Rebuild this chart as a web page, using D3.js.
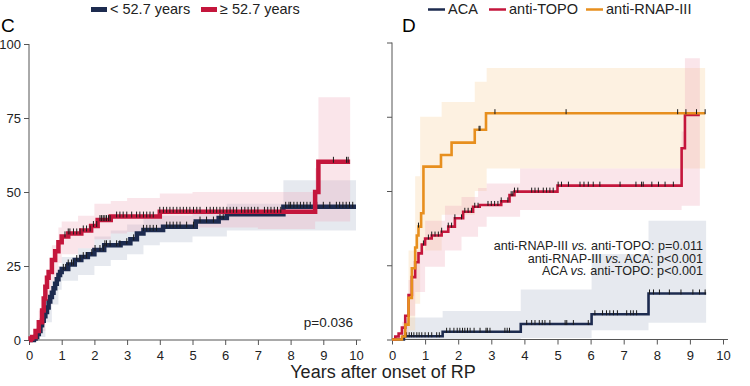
<!DOCTYPE html>
<html>
<head>
<meta charset="utf-8">
<script src="https://cdn.jsdelivr.net/npm/d3@7"></script>
<style>
body{margin:0;background:#fff;}
svg{display:block;font-family:"Liberation Sans",Arial,sans-serif;}
.axis text{font-size:13px;fill:#222;}
.axis path,.axis line{stroke:#555;}
</style>
</head>
<body>
<div id="chart"></div>
<script>
// ---- data (years after onset, cumulative %)
var yTicks = [0,25,50,75,100]
var xTicks = [0,1,2,3,4,5,6,7,8,9,10]

// panel C : age groups
var youngT = [0,0.15,0.2,0.25,0.3,0.35,0.4,0.45,0.5,0.55,0.6,0.65,0.7,0.75,0.8,0.85,0.9,0.95,1.0,1.2,1.4,1.6,1.8,2.0,2.3,2.8,3.1,3.3,3.5,4.1,5.1,5.8,6.05,7.78]
var youngV = [0,0.5,1,2,3,5,6.5,8,9.5,11,13,14.5,16,17.5,19,20.5,22,23,24,25.5,27,28,29,30.4,32,32.7,34,36,37.2,38.3,40,41.2,42.5,45]
var youngEnd = 10.0
var youngCensor = [1.05,1.12,1.2,1.3,1.36,1.46,1.56,1.66,1.76,1.92,2.02,2.17,2.27,2.32,2.37,2.48,2.68,2.78,2.99,3.2,3.5,3.6,3.7,3.8,3.9,4.21,4.31,4.41,4.52,4.62,4.82,5.03,5.23,5.43,5.64,5.84,5.94,7.85,7.95,8.0,8.1,8.2,8.3,8.4,8.5,8.6,8.7,8.8,9.0,9.2,9.4,9.5,9.6,9.7,9.8,9.9]
var youngBandT = [0,0.3,0.5,0.7,0.9,1.0,1.5,2.0,2.5,3.0,3.5,4,5,6.05,7.78]
var youngUp = [0,4,13,20,25,28,31,35,37,39,41,42,44,46,54]
var youngLo = [0,1,6,12,17,20,22,25,27,29,32,33,35,37,37]

var oldT = [0,0.05,0.1,0.2,0.3,0.4,0.45,0.5,0.55,0.6,0.7,0.8,0.9,1.0,1.2,1.6,1.9,2.1,2.5,4.0,8.75,8.85]
var oldV = [0,0.5,1,3,6,10,14,18,21,23,27,30,33,35,36,37,38.5,40.5,41.7,43.3,50,60.2]
var oldEnd = 9.82
var oldCensor = [1.1,1.2,1.25,1.36,1.46,1.56,1.66,1.76,1.87,1.97,2.07,2.17,2.22,2.27,2.32,2.37,2.43,2.48,2.68,2.78,2.88,2.99,3.14,3.29,3.39,3.5,3.6,3.7,3.8,4.0,4.11,4.21,4.31,4.41,4.52,4.62,4.72,4.82,4.92,5.03,5.13,5.23,5.43,5.54,5.64,5.74,5.84,5.94,6.05,6.15,6.25,6.35,6.5,6.6,6.7,6.8,6.9,7.0,7.2,7.3,7.4,7.5,7.6,7.7,9.31,9.71,9.76]
var oldBandT = [0,0.3,0.5,0.7,0.9,1.0,1.5,2.0,2.5,3,4,5,7,8.75,8.85]
var oldUp = [0,10,22,32,38,40,42,46,47,48,49.5,50,50,58,82]
var oldLo = [0,3,12,20,26,29,31,34,36,36.5,37.5,38,37.5,40,40]

// panel D : antibodies
var acaT = [0,0.36,1.53,3.89,6.03,7.75]
var acaV = [0,1.1,2.6,5.2,8.5,15.5]
var acaEnd = 9.49
var acaCensor = [0.44,0.52,0.59,0.66,0.75,0.82,0.9,1.0,1.1,1.2,1.35,1.43,1.65,1.75,1.87,1.97,2.05,2.13,2.2,2.28,2.36,2.48,2.66,2.84,2.88,2.96,3.41,3.48,3.55,4.07,4.22,4.32,4.45,4.54,4.62,4.77,5.23,5.28,5.48,5.93,6.13,6.36,6.48,6.58,6.69,6.81,7.09,7.21,7.29,7.39,7.78,7.9,8.08,8.38,8.73,9.09,9.29,9.46]
var acaBandT = [0.36,1.53,3.89,6.03,7.75]
var acaUp = [7.4,9.6,16.8,28.8,40]
var acaLo = [0,0,0.5,3.1,5.6]

var topoT = [0,0.1,0.2,0.3,0.4,0.5,0.6,0.7,0.8,0.9,1.0,1.2,1.5,1.7,1.9,2.15,2.45,2.65,3.3,3.55,3.7,5.0,8.75,8.85]
var topoV = [0,1,2,4,8,15,21,26,29,32,34,35,36.3,38,40.8,43,44.7,45.3,46.5,48.6,49.8,51.8,64.4,75.6]
var topoEnd = 9.3
var topoCensor = [0.95,1.1,1.2,1.3,1.4,1.5,1.7,1.8,1.9,2.1,2.2,2.3,2.4,2.5,2.6,2.9,3.0,3.1,3.2,3.3,3.5,3.6,3.65,3.7,3.8,4.22,4.32,4.42,4.57,4.67,4.77,4.87,5.02,5.12,5.33,5.68,5.8,5.93,6.08,6.28,6.89,7.37,7.54,7.59,7.85,8.05,8.25,8.5]
var topoBandT = [0,0.3,0.5,0.7,1.0,1.6,2.1,2.6,2.86,3.87,8.75,8.85]
var topoUp = [0,6,20,30,40,45,48,51,52.5,57.6,70,94.7]
var topoLo = [0,1,8,16,24.5,30,34.6,38,41.3,43.6,45,45]

var rnapT = [0,0.3,0.4,0.5,0.6,0.7,0.75,0.8,0.88,0.95,1.48,1.8,2.5,2.84]
var rnapV = [0,1,5,14,24,31,35,38,42.5,58.2,62.1,66.3,70.6,76.2]
var rnapEnd = 9.46
var rnapCensor = [0.8,2.63,2.66,3.11,5.26,8.63,8.88,9.2,9.46]
var rnapBandT = [0.3,0.5,0.7,0.85,1.5,2.5,2.86]
var rnapUp = [0,30,55,75,80,86.8,91.4]
var rnapLo = [0,3,12,30,42,50,57.6]

// ---- colours
var navy = "#1d2b4f", red = "#c4163c", orange = "#e78f1e"

var W = 750, H = 386
var svg = d3.select("#chart").append("svg").attr("width",W).attr("height",H)

var xC = d3.scaleLinear().domain([0,10]).range([29,356])
var yC = d3.scaleLinear().domain([0,100]).range([340,44])
var xD = d3.scaleLinear().domain([0,10]).range([392,723])
var yD = d3.scaleLinear().domain([0,100]).range([339.5,42.5])

function stepPoints(t,v,end){
    var pts = t.map(function(d,i){return [d,v[i]]})
    pts.push([end,v[v.length-1]])
    return pts
}
function valueAt(t,v,x){
    var val = v[0]
    for(var i in t){ if(t[i]<=x) val = v[i] }
    return val
}

function drawBand(x,y,t,up,lo,end,fill){
    var pts = t.map(function(d,i){return {t:d,u:up[i],l:lo[i]}})
    pts.push({t:end,u:up[up.length-1],l:lo[lo.length-1]})
    var area = d3.area().curve(d3.curveStepAfter)
        .x(function(d){return x(d.t)})
        .y0(function(d){return y(d.l)})
        .y1(function(d){return y(d.u)})
    svg.append("path").datum(pts).attr("d",area).attr("fill",fill)
}
function drawCurve(x,y,t,v,end,color,width,censor,tickUp){
    var line = d3.line().curve(d3.curveStepAfter)
        .x(function(d){return x(d[0])}).y(function(d){return y(d[1])})
    svg.append("path").datum(stepPoints(t,v,end)).attr("d",line)
        .attr("fill","none").attr("stroke",color).attr("stroke-width",width)
        .attr("stroke-linejoin","miter")
    svg.append("g").selectAll("line").data(censor).enter().append("line")
        .attr("x1",function(d){return x(d)}).attr("x2",function(d){return x(d)})
        .attr("y1",function(d){return y(valueAt(t,v,d))-tickUp})
        .attr("y2",function(d){return y(valueAt(t,v,d))+1})
        .attr("stroke","#1a1a1a").attr("stroke-width",1)
}

function drawAxes(x,y,labels){
    var ga = svg.append("g").attr("class","axis").attr("transform","translate("+x.range()[0]+",0)")
        .call(d3.axisLeft(y).tickValues(yTicks).tickSize(5).tickSizeOuter(0).tickFormat(labels?d3.format("d"):""))
    ga.select(".domain").remove()
    ga.append("line").attr("y1",y(0)).attr("y2",y(100)).attr("stroke","#555")
    var gx = svg.append("g").attr("class","axis").attr("transform","translate(0,"+y(0)+")")
        .call(d3.axisBottom(x).tickValues(xTicks).tickSize(5).tickSizeOuter(0))
    gx.select(".domain").remove()
    gx.append("line").attr("x1",x(0)).attr("x2",x(10.15)).attr("stroke","#555")
    gx.selectAll("text").attr("dy","0.95em")
}

// panel C
drawBand(xC,yC,youngBandT,youngUp,youngLo,youngEnd,"rgba(200,207,220,0.45)")
drawBand(xC,yC,oldBandT,oldUp,oldLo,oldEnd,"rgba(240,170,185,0.3)")
drawAxes(xC,yC,true)
drawCurve(xC,yC,youngT,youngV,youngEnd,navy,4.5,youngCensor,5)
drawCurve(xC,yC,oldT,oldV,oldEnd,red,4.5,oldCensor,5)

// panel D
drawBand(xD,yD,acaBandT,acaUp,acaLo,acaEnd,"rgba(200,207,220,0.45)")
drawBand(xD,yD,rnapBandT,rnapUp,rnapLo,rnapEnd,"rgba(250,215,170,0.35)")
drawBand(xD,yD,topoBandT,topoUp,topoLo,topoEnd,"rgba(240,170,185,0.3)")
drawAxes(xD,yD,false)
drawCurve(xD,yD,acaT,acaV,acaEnd,navy,2.6,acaCensor,4)
drawCurve(xD,yD,topoT,topoV,topoEnd,red,2.6,topoCensor,4)
drawCurve(xD,yD,rnapT,rnapV,rnapEnd,orange,2.6,rnapCensor,4)

// labels
svg.append("text").attr("x",1).attr("y",32).attr("font-size",19).text("C")
svg.append("text").attr("x",402).attr("y",32).attr("font-size",19).text("D")
svg.append("text").attr("x",353).attr("y",327).attr("text-anchor","end").attr("font-size",13.5).attr("fill","#222").text("p=0.036")

var notes = [["anti-RNAP-III ","vs."," anti-TOPO: p=0.011"],["anti-RNAP-III ","vs."," ACA: p<0.001"],["ACA ","vs."," anti-TOPO: p<0.001"]]
notes.forEach(function(n,i){
    var t = svg.append("text").attr("x",703).attr("y",250+i*12.6).attr("text-anchor","end")
        .attr("font-size",12.6).attr("fill","#222")
    t.append("tspan").text(n[0])
    t.append("tspan").attr("font-style","italic").text(n[1])
    t.append("tspan").text(n[2])
})

svg.append("text").attr("x",383).attr("y",378).attr("text-anchor","middle").attr("font-size",18).attr("fill","#222")
    .text("Years after onset of RP")

// legends
var legC = [{label:"< 52.7 years",color:navy,x:91},{label:"\u2265 52.7 years",color:red,x:201}]
legC.forEach(function(d){
    svg.append("rect").attr("x",d.x).attr("y",7).attr("width",16).attr("height",5).attr("fill",d.color)
    svg.append("text").attr("x",d.x+19).attr("y",14).attr("font-size",14.5).attr("fill","#222").text(d.label)
})
var legD = [{label:"ACA",color:navy,x:428},{label:"anti-TOPO",color:red,x:489},{label:"anti-RNAP-III",color:orange,x:586}]
legD.forEach(function(d){
    svg.append("line").attr("x1",d.x).attr("x2",d.x+17).attr("y1",9.5).attr("y2",9.5).attr("stroke",d.color).attr("stroke-width",2.5)
    svg.append("text").attr("x",d.x+20).attr("y",14).attr("font-size",14.5).attr("fill","#222").text(d.label)
})
</script>
</body>
</html>
